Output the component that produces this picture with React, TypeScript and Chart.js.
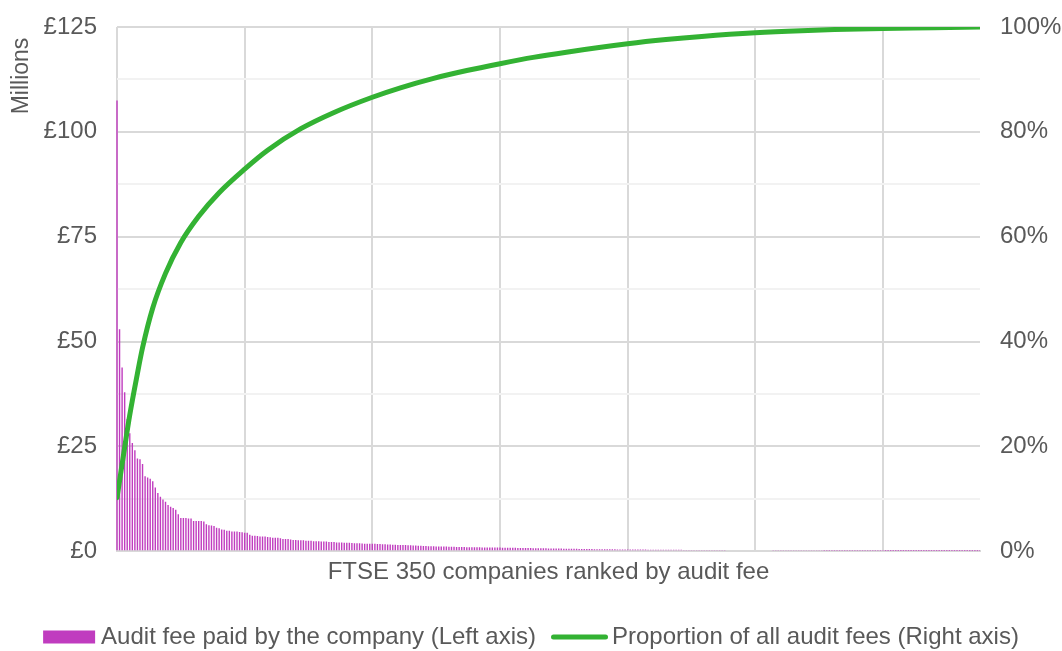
import React, { useEffect, useRef } from "react";
import { Chart, registerables } from "chart.js";

Chart.register(...registerables);

// Audit fee paid by each company, £ millions, ranked (1 = highest)
const auditFees: number[] = [
  107.5, 52.9, 43.8, 37.9, 31.5, 28.1, 25.8, 24.1, 22.1, 21.9,
  20.8, 17.9, 17.6, 17.3, 16.7, 15.2, 13.9, 13.0, 12.3, 11.8,
  11.0, 10.6, 10.3, 9.9, 8.8, 7.9, 7.9, 7.9, 7.8, 7.8,
  7.2, 7.2, 7.2, 7.2, 7.1, 6.4, 6.2, 6.1, 6.0, 5.6,
  5.5, 5.2, 5.1, 4.9, 4.9, 4.7, 4.7, 4.7, 4.6, 4.5,
  4.4, 4.4, 3.9, 3.7, 3.7, 3.6, 3.5, 3.5, 3.5, 3.4,
  3.3, 3.2, 3.2, 3.2, 3.1, 2.9, 2.9, 2.9, 2.8, 2.7,
  2.7, 2.6, 2.6, 2.6, 2.5, 2.5, 2.5, 2.4, 2.4, 2.4,
  2.3, 2.3, 2.3, 2.2, 2.2, 2.2, 2.1, 2.1, 2.1, 2.0,
  2.0, 2.0, 1.95, 1.9, 1.9, 1.9, 1.85, 1.8, 1.8, 1.8,
  1.75, 1.75, 1.7, 1.7, 1.65, 1.65, 1.6, 1.6, 1.55, 1.55,
  1.5, 1.5, 1.45, 1.45, 1.4, 1.4, 1.35, 1.35, 1.3, 1.3,
  1.25, 1.25, 1.2, 1.2, 1.2, 1.15, 1.15, 1.1, 1.1, 1.1,
  1.05, 1.05, 1.05, 1.0, 1.0, 1.0, 0.98, 0.97, 0.96, 0.95,
  0.94, 0.93, 0.92, 0.91, 0.9, 0.9, 0.89, 0.88, 0.88, 0.87,
  0.86, 0.85, 0.84, 0.83, 0.82, 0.81, 0.8, 0.79, 0.78, 0.77,
  0.76, 0.75, 0.74, 0.73, 0.72, 0.71, 0.7, 0.69, 0.68, 0.67,
  0.66, 0.65, 0.64, 0.63, 0.62, 0.61, 0.6, 0.59, 0.58, 0.57,
  0.56, 0.55, 0.54, 0.53, 0.52, 0.51, 0.5, 0.49, 0.48, 0.47,
  0.46, 0.46, 0.45, 0.45, 0.44, 0.44, 0.43, 0.43, 0.42, 0.42,
  0.41, 0.41, 0.4, 0.4, 0.39, 0.39, 0.38, 0.38, 0.37, 0.37,
  0.36, 0.36, 0.35, 0.35, 0.35, 0.34, 0.34, 0.33, 0.33, 0.33,
  0.32, 0.32, 0.31, 0.31, 0.31, 0.3, 0.3, 0.3, 0.29, 0.29,
  0.28, 0.28, 0.28, 0.27, 0.27, 0.27, 0.26, 0.26, 0.26, 0.25,
  0.25, 0.25, 0.24, 0.24, 0.24, 0.23, 0.23, 0.23, 0.22, 0.22,
  0.22, 0.21, 0.21, 0.21, 0.2, 0.2, 0.2, 0.19, 0.19, 0.19,
  0.18, 0.18, 0.18, 0.17, 0.17, 0.17, 0.16, 0.16, 0.16, 0.15,
  0.15, 0.15, 0.15, 0.14, 0.14, 0.14, 0.14, 0.13, 0.13, 0.13,
  0.13, 0.12, 0.12, 0.12, 0.12, 0.11, 0.11, 0.11, 0.11, 0.1,
  0.1, 0.1, 0.1, 0.09, 0.09, 0.09, 0.09, 0.08, 0.08, 0.08,
  0.08, 0.07, 0.07, 0.07, 0.07, 0.06, 0.06, 0.06, 0.06, 0.05,
  0.05, 0.05, 0.05, 0.05, 0.04, 0.04, 0.04, 0.04, 0.04, 0.04,
  0.03, 0.03, 0.03, 0.03, 0.03, 0.03, 0.03, 0.02, 0.02, 0.02,
  0.02, 0.02, 0.02, 0.02, 0.01, 0.01, 0.01, 0.01, 0.01,
];

// Cumulative proportion of all audit fees (%), read at these ranks
const shareRanks: number[] = [1, 4, 6, 9, 11, 15, 20, 26, 33, 41, 51, 60, 73, 86, 101, 112, 125, 138, 151, 164, 177, 201, 216, 230, 251, 269, 282, 301, 321, 339];
const shareValues: number[] = [10.2, 19.8, 26.0, 33.9, 38.8, 46.4, 53.0, 58.9, 63.9, 68.4, 72.9, 76.5, 80.6, 83.7, 86.6, 88.4, 90.2, 91.7, 93.0, 94.2, 95.2, 96.8, 97.6, 98.2, 98.9, 99.3, 99.5, 99.7, 99.85, 100];

// Vertical gridlines every 50 companies
const gridRanks: number[] = [1, 51, 101, 151, 201, 251, 301];
const leftTicks: number[] = [0, 25, 50, 75, 100, 125];
const rightTicks: number[] = [0, 20, 40, 60, 80, 100];

const FONT = '"Liberation Sans", Arial, sans-serif';
const TEXT = "#595959";
const FS = 24;
const BAR_COLOR = "#c03cbf";
const LINE_COLOR = "#33b233";

const millionsPlugin = {
  id: "millionsTitle",
  afterDraw(chart: any) {
    const ctx = chart.ctx;
    ctx.save();
    ctx.translate(22, 76);
    ctx.rotate(-Math.PI / 2);
    ctx.font = `23px ${FONT}`;
    ctx.fillStyle = TEXT;
    ctx.textAlign = "center";
    ctx.textBaseline = "middle";
    ctx.fillText("Millions", 0, 0);
    ctx.restore();
  },
};

const legendPlugin = {
  id: "bottomLegend",
  afterDraw(chart: any) {
    const ctx = chart.ctx;
    const ds = chart.data.datasets;
    const label1 = ds[0].label as string;
    const label2 = ds[1].label as string;
    ctx.save();
    ctx.font = `${FS}px ${FONT}`;
    const w1 = ctx.measureText(label1).width;
    const w2 = ctx.measureText(label2).width;
    const sw1 = 52, g1 = 6, gap = 15, sw2 = 57, g2 = 4;
    const total = sw1 + g1 + w1 + gap + sw2 + g2 + w2;
    let x = chart.width / 2 - total / 2;
    const y = 637;
    ctx.fillStyle = BAR_COLOR;
    ctx.fillRect(x, y - 6.5, sw1, 13);
    x += sw1 + g1;
    ctx.fillStyle = TEXT;
    ctx.textAlign = "left";
    ctx.textBaseline = "middle";
    ctx.fillText(label1, x, y);
    x += w1 + gap;
    ctx.strokeStyle = LINE_COLOR;
    ctx.lineWidth = 5;
    ctx.lineCap = "round";
    ctx.beginPath();
    ctx.moveTo(x + 2.5, y);
    ctx.lineTo(x + sw2 - 2.5, y);
    ctx.stroke();
    x += sw2 + g2;
    ctx.fillText(label2, x, y);
    ctx.restore();
  },
};

export default function App() {
  const ref = useRef<HTMLCanvasElement>(null);
  useEffect(() => {
    document.body.style.margin = "0";
    Chart.defaults.font.family = FONT;
    const ranks = auditFees.map((_, i) => i + 1);
    const chart = new Chart(ref.current as HTMLCanvasElement, {
      type: "bar",
      data: {
        datasets: [
          {
            type: "bar",
            label: "Audit fee paid by the company (Left axis)",
            data: auditFees.map((v, i) => ({ x: ranks[i], y: v })),
            backgroundColor: BAR_COLOR,
            borderWidth: 0,
            barPercentage: 0.55,
            categoryPercentage: 1,
            yAxisID: "y",
            order: 1,
            clip: { left: 3, right: 0, top: 0, bottom: 0 },
          } as any,
          {
            type: "line",
            label: "Proportion of all audit fees (Right axis)",
            data: shareRanks.map((r, i) => ({ x: r, y: shareValues[i] })),
            borderColor: LINE_COLOR,
            backgroundColor: LINE_COLOR,
            borderWidth: 5,
            borderCapStyle: "round",
            pointRadius: 0,
            cubicInterpolationMode: "monotone",
            yAxisID: "y1",
            order: 0,
          } as any,
        ],
      },
      options: {
        animation: false,
        responsive: false,
        maintainAspectRatio: false,
        layout: { padding: { top: 27, left: 0, right: 0, bottom: 60 } },
        plugins: {
          tooltip: { enabled: false },
          legend: { display: false },
        },
        scales: {
          x: {
            type: "linear",
            min: 1,
            max: auditFees.length,
            offset: false,
            afterBuildTicks: (scale: any) => {
              scale.ticks = gridRanks.map((v) => ({ value: v }));
            },
            ticks: { display: false },
            grid: { color: "#d9d9d9", lineWidth: 2, drawTicks: false, offset: false },
            border: { display: true, color: "#d9d9d9", width: 2 },
            title: {
              display: true,
              text: "FTSE 350 companies ranked by audit fee",
              color: TEXT,
              font: { size: FS, family: FONT },
              padding: { top: 7, bottom: 4 },
            },
          },
          y: {
            type: "linear",
            position: "left",
            min: 0,
            max: 125,
            afterBuildTicks: (scale: any) => {
              const t: any[] = [];
              for (let i = 0; i < leftTicks.length; i++) {
                t.push({ value: leftTicks[i] });
                if (i < leftTicks.length - 1) t.push({ value: (leftTicks[i] + leftTicks[i + 1]) / 2 });
              }
              scale.ticks = t;
            },
            afterFit: (scale: any) => {
              scale.width = 117;
            },
            ticks: {
              padding: 0,
              color: TEXT,
              font: { size: FS, family: FONT },
              autoSkip: false,
              callback: (v: any) => (leftTicks.includes(Number(v)) ? "£" + v : ""),
            },
            grid: {
              drawTicks: true,
              tickLength: 20,
              tickColor: "rgba(0,0,0,0)",
              lineWidth: 2,
              color: (ctx: any) =>
                ctx.tick && leftTicks.includes(ctx.tick.value) ? "#d9d9d9" : "#f2f2f2",
            },
            border: { display: false },
          },
          y1: {
            type: "linear",
            position: "right",
            min: 0,
            max: 100,
            afterBuildTicks: (scale: any) => {
              scale.ticks = rightTicks.map((v) => ({ value: v }));
            },
            afterFit: (scale: any) => {
              scale.width = 82;
            },
            ticks: {
              padding: 0,
              color: TEXT,
              font: { size: FS, family: FONT },
              callback: (v: any) => v + "%",
            },
            grid: { display: true, drawOnChartArea: false, drawTicks: true, tickLength: 20, tickColor: "rgba(0,0,0,0)" },
            border: { display: false },
          },
        },
      } as any,
      plugins: [millionsPlugin, legendPlugin],
    });
    return () => chart.destroy();
  }, []);
  return <canvas ref={ref} width={1062} height={651} style={{ display: "block" }} />;
}
